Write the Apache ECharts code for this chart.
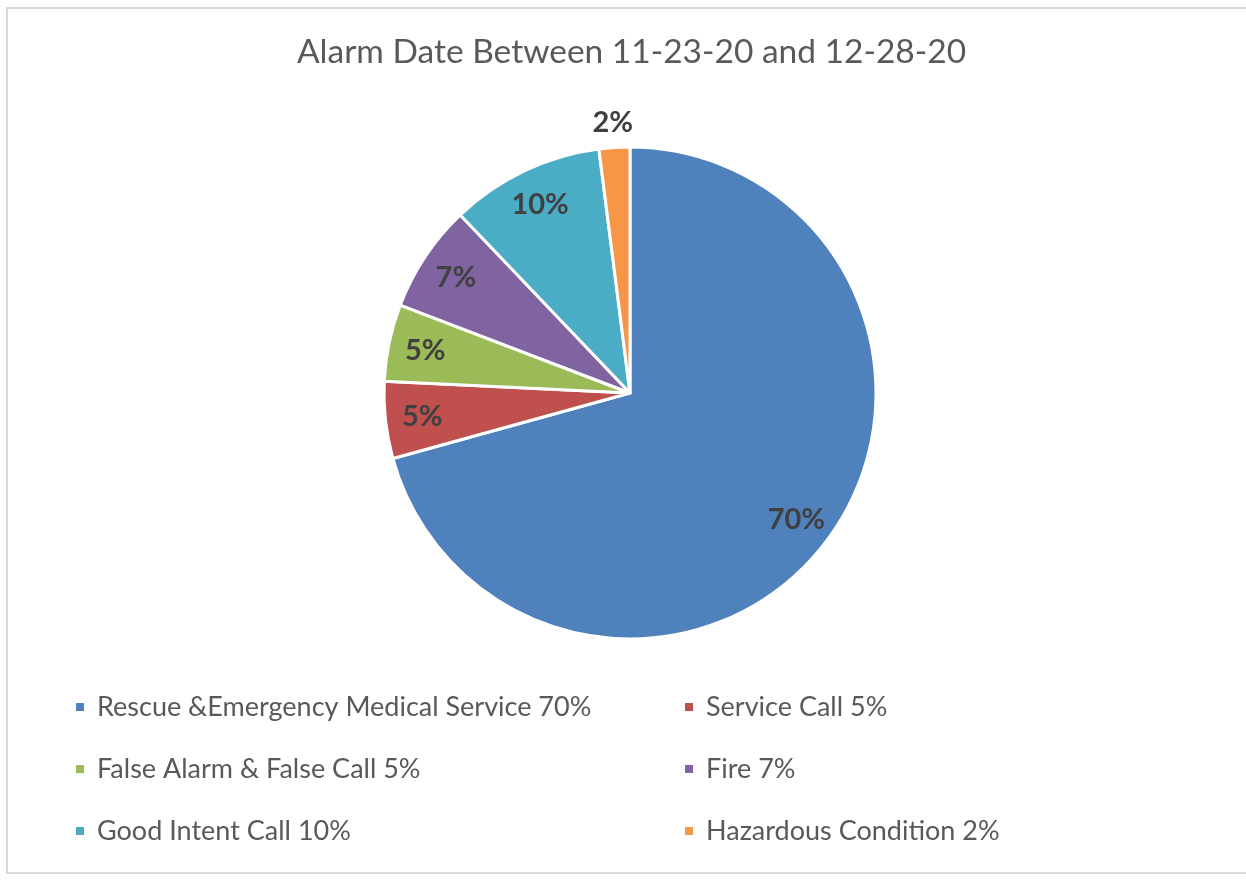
<!DOCTYPE html>
<html>
<head>
<meta charset="utf-8">
<script src="https://cdn.jsdelivr.net/npm/echarts@6/dist/echarts.min.js"></script>
<style>
  html, body { margin: 0; padding: 0; background: #fff; overflow: hidden; }
  #chart { width: 1246px; height: 880px; position: absolute; left: 0; top: 0; }
  #frame { position: absolute; left: 6px; top: 7px; width: 1250px; height: 867px; border: 2px solid #d9d9d9; pointer-events: none; box-sizing: border-box; }
</style>
</head>
<body>
<div id="chart"></div>
<div id="frame"></div>
<script>
const titleText = 'Alarm Date Between 11-23-20 and 12-28-20';
const categories = [
  'Rescue &Emergency Medical Service 70%',
  'Service Call 5%',
  'False Alarm & False Call 5%',
  'Fire 7%',
  'Good Intent Call 10%',
  'Hazardous Condition 2%'
];
const values = [70, 5, 5, 7, 10, 2];
const colors = ['#4F81BD', '#C0504D', '#9BBB59', '#8064A2', '#4BACC6', '#F79646'];

const CX = 630, CY = 393, R = 246;
const FONT = 'Lato, "Open Sans", sans-serif';

const chart = echarts.init(document.getElementById('chart'), null, { renderer: 'canvas' });

const legendCommon = {
  orient: 'vertical',
  icon: 'rect',
  padding: 0,
  itemWidth: 10,
  itemHeight: 10,
  itemGap: 32,
  selectedMode: false,
  textStyle: { fontFamily: FONT, fontSize: 27, color: '#595959', lineHeight: 30, padding: [0, 0, 0, 7] }
};

chart.setOption({
  animation: false,
  color: colors,
  title: {
    text: titleText,
    left: 292,
    top: 30,
    textStyle: { fontFamily: FONT, fontSize: 33.5, fontWeight: 'normal', color: '#595959' }
  },
  legend: [
    Object.assign({}, legendCommon, { left: 74, top: 692, data: [categories[0], categories[2], categories[4]] }),
    Object.assign({}, legendCommon, { left: 683, top: 692, data: [categories[1], categories[3], categories[5]] })
  ],
  series: [{
    type: 'pie',
    center: [CX, CY],
    radius: [0, R],
    startAngle: 90,
    clockwise: true,
    avoidLabelOverlap: false,
    emphasis: { disabled: true },
    itemStyle: { borderColor: '#ffffff', borderWidth: 3 },
    label: {
      show: true,
      position: 'inside',
      formatter: function (p) { return values[p.dataIndex] + '%'; },
      fontFamily: FONT,
      fontSize: 29,
      fontWeight: 'bold',
      color: '#404040'
    },
    labelLine: { show: false },
    labelLayout: function (p) {
      const r = p.labelRect;
      const lx = r.x + r.width / 2, ly = r.y + r.height / 2;
      const d = Math.hypot(lx - CX, ly - CY) || 1;
      const target = (values[p.dataIndex] < 3 ? 1.10 : 0.85) * R;
      const s = target / d;
      return { x: CX + (lx - CX) * s, y: CY + (ly - CY) * s, align: 'center', verticalAlign: 'middle' };
    },
    data: categories.map(function (c, i) { return { name: c, value: values[i] }; })
  }]
});
</script>
</body>
</html>
